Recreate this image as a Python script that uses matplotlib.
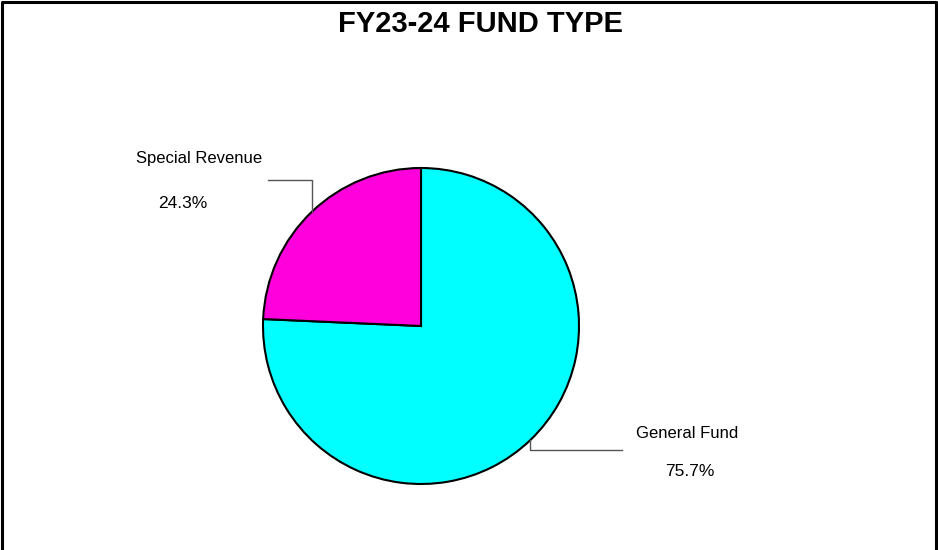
import numpy as np
import matplotlib.pyplot as plt

plt.rcParams['font.family'] = ['Liberation Sans', 'DejaVu Sans']

labels = ['General Fund', 'Special Revenue']
shares = [75.7, 24.3]
colors = ['#00FFFF', '#FF00DC']

W, H = 938, 550
fig = plt.figure(figsize=(W / 100, H / 100), dpi=100)
ax = fig.add_axes([0, 0, 1, 1])

cx, cy, r = 421, 224, 158
wedges, _ = ax.pie(shares, colors=colors, startangle=90, counterclock=False,
                   center=(cx, cy), radius=r, frame=True,
                   wedgeprops=dict(edgecolor='black', linewidth=1.5))
ax.set_xlim(0, W)
ax.set_ylim(0, H)
ax.set_aspect('equal')
ax.axis('off')

# leader lines: vertical run, end x of horizontal run, label pos, pct pos
leaders = {
    'General Fund': (-10, 622, (687, 117), (690, 78)),
    'Special Revenue': (32, 268, (199, 392), (183, 347)),
}
for w, lab, val in zip(wedges, labels, shares):
    ang = np.deg2rad((w.theta1 + w.theta2) / 2)
    x0 = cx + r * np.cos(ang)
    y0 = cy + r * np.sin(ang)
    dy, xend, (lx, ly), (px, py) = leaders[lab]
    y1 = y0 + dy
    ax.plot([x0, x0, xend], [y0, y1, y1], color='#555555', lw=1)
    ax.text(lx, ly, lab, ha='center', va='center', fontsize=12)
    ax.text(px, py, f'{val:.1f}%', ha='center', va='center', fontsize=12.5)

fig.text(480 / W, 1 - 24 / H, 'FY23-24 FUND TYPE', ha='center', va='center',
         fontsize=21, fontweight='bold')

# outer frame, open at the bottom
ax.plot([2, 2, 936, 936], [0, 548, 548, 0], color='black', lw=2.2, clip_on=False)

fig.savefig('out.png', dpi=100)
